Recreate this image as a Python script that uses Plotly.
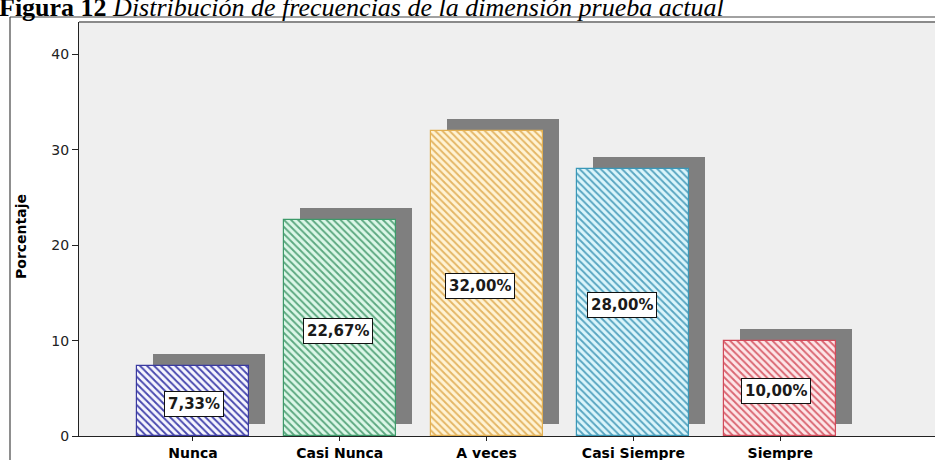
import plotly.graph_objects as go

# Frequency distribution data
categorias = ["Nunca", "Casi Nunca", "A veces", "Casi Siempre", "Siempre"]
porcentajes = [7.33, 22.67, 32.00, 28.00, 10.00]
etiquetas = ["7,33%", "22,67%", "32,00%", "28,00%", "10,00%"]
ticks_y = [0, 10, 20, 30, 40]

# Styling per category
fondo_barras = ["#f6f6fe", "#dcf7e8", "#fff3d4", "#dbf5fb", "#fde6e8"]
trama_barras = ["#4848ae", "#5ca880", "#e4b665", "#58a5c1", "#da6672"]
borde_barras = ["#3a3aa0", "#3d9a6a", "#e3b052", "#3a98b8", "#d24a5a"]
desplaz_etiqueta = [1, -2, -7, -11, -4]

W, H = 935, 460
ML, MR, MT, MB = 79, 0, 22, 24
plot_w = W - ML - MR
plot_h = H - MT - MB
x_range = [-0.776, 5.054]
y_range = [0, 43.4]

ancho = 0.763
sombra_dx = 16 / plot_w * (x_range[1] - x_range[0])
sombra_dy = 12 / plot_h * (y_range[1] - y_range[0])

fig = go.Figure()

# Drop shadow behind each bar
fig.add_trace(go.Bar(
    x=categorias, y=porcentajes,
    base=[sombra_dy] * len(porcentajes),
    width=ancho, offset=-ancho / 2 + sombra_dx,
    marker=dict(color="#7f7f7f", line=dict(width=0), opacity=1),
    hoverinfo="skip", showlegend=False,
))

# Hatched bars, one trace per category
for i, (c, v) in enumerate(zip(categorias, porcentajes)):
    fig.add_trace(go.Bar(
        x=[c], y=[v],
        width=ancho, offset=-ancho / 2,
        marker=dict(
            color=fondo_barras[i], opacity=1,
            line=dict(color=borde_barras[i], width=1.2),
            pattern=dict(shape="\\", size=5, solidity=0.38,
                         fgcolor=trama_barras[i], bgcolor=fondo_barras[i],
                         fgopacity=1, fillmode="replace"),
        ),
        name=c, showlegend=False,
    ))

# Boxed percentage labels
for i, (c, v, t) in enumerate(zip(categorias, porcentajes, etiquetas)):
    fig.add_annotation(
        x=c, y=v / 2, xref="x", yref="y", text=t, showarrow=False,
        xshift=desplaz_etiqueta[i], yshift=-3,
        font=dict(family="DejaVu Sans", size=15, color="#1a1a1a", weight="bold"),
        bgcolor="white", bordercolor="#111", borderwidth=1, borderpad=3,
    )

def px_x(px):
    return (px - ML) / plot_w

def px_y(py):
    return (H - MB - py) / plot_h

# Figure caption (partly above the page edge)
fig.add_annotation(
    xref="paper", yref="paper", x=px_x(-3), y=px_y(24),
    xanchor="left", yanchor="bottom", showarrow=False,
    text="<b>Figura 12</b> <i>Distribución de frecuencias de la dimensión prueba actual</i>",
    font=dict(family="Liberation Serif", size=26, color="black"),
)

# Y-axis title
fig.add_annotation(
    xref="paper", yref="paper", x=px_x(21), y=px_y(237),
    xanchor="center", yanchor="middle", showarrow=False, textangle=-90,
    text="<b>Porcentaje</b>",
    font=dict(family="DejaVu Sans", size=14, color="black"),
)

# Outer frame
fig.add_shape(type="line", xref="paper", yref="paper",
              x0=px_x(10), x1=px_x(10), y0=px_y(17), y1=px_y(470),
              line=dict(color="#444", width=1.2))
fig.add_shape(type="line", xref="paper", yref="paper",
              x0=px_x(10), x1=px_x(945), y0=px_y(17), y1=px_y(17),
              line=dict(color="#444", width=1.2))
# Plot area top edge
fig.add_shape(type="line", xref="paper", yref="paper",
              x0=0, x1=1, y0=1, y1=1,
              line=dict(color="#8a8a8a", width=2))

fig.update_layout(
    width=W, height=H,
    margin=dict(l=ML, r=MR, t=MT, b=MB, autoexpand=False),
    paper_bgcolor="white", plot_bgcolor="#efefef",
    barmode="overlay", bargap=0,
)
fig.update_xaxes(
    range=x_range, showgrid=False, zeroline=False, automargin=False,
    categoryorder="array", categoryarray=categorias,
    showline=True, linecolor="#222", linewidth=1,
    ticks="outside", ticklen=4, tickcolor="#222",
    tickfont=dict(family="DejaVu Sans", size=14, color="black", weight="bold"),
)
fig.update_yaxes(
    range=y_range, tickvals=ticks_y, showgrid=False, zeroline=False, automargin=False,
    showline=True, linecolor="#222", linewidth=1,
    ticks="outside", ticklen=6, tickcolor="#222",
    tickfont=dict(family="DejaVu Sans", size=14, color="#222"),
)

fig.write_html("out.html")
